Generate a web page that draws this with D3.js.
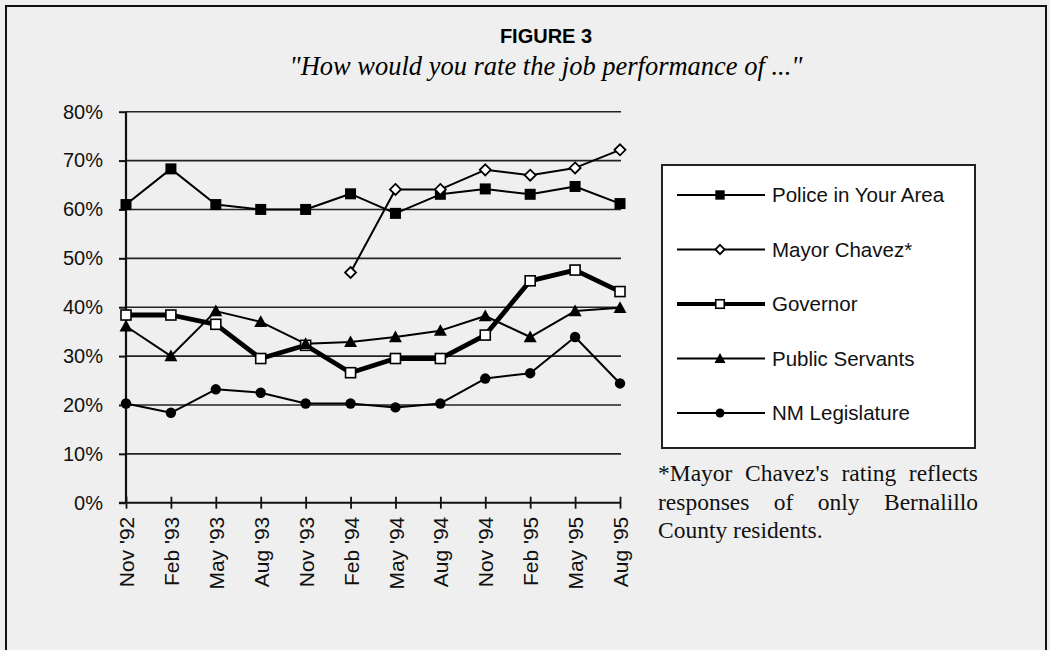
<!DOCTYPE html>
<html><head><meta charset="utf-8">
<script src="https://cdn.jsdelivr.net/npm/d3@7"></script>
<style>body{margin:0;background:#fff}svg{display:block}</style>
</head><body>
<svg id="c" width="1050" height="650"></svg>
<script>
const categories = ["Nov '92","Feb '93","May '93","Aug '93","Nov '93","Feb '94","May '94","Aug '94","Nov '94","Feb '95","May '95","Aug '95"];
const police      = [61.0, 68.3, 61.0, 60.0, 60.0, 63.2, 59.2, 63.1, 64.2, 63.1, 64.7, 61.2];
const mayor       = [null, null, null, null, null, 47.1, 64.1, 64.1, 68.1, 67.0, 68.5, 72.2];
const governor    = [38.4, 38.4, 36.5, 29.5, 32.2, 26.6, 29.5, 29.5, 34.3, 45.4, 47.6, 43.2];
const publicServ  = [36.1, 30.0, 39.2, 37.0, 32.5, 32.9, 33.9, 35.2, 38.2, 33.9, 39.2, 39.9];
const legislature = [20.3, 18.4, 23.2, 22.5, 20.3, 20.3, 19.5, 20.3, 25.4, 26.5, 33.9, 24.4];
const yTicks = [0,10,20,30,40,50,60,70,80];
const seriesNames = ["Police in Your Area","Mayor Chavez*","Governor","Public Servants","NM Legislature"];
const title = "FIGURE 3";
const subtitle = "\"How would you rate the job performance of ...\"";
const footnote = "*Mayor Chavez's rating reflects responses of only Bernalillo County residents.";

const svg = d3.select("#c");
const sans = "Liberation Sans, Arial, sans-serif";
const serif = "Liberation Serif, Times New Roman, serif";

svg.append("rect").attr("width",1050).attr("height",650).attr("fill","#efefef");
svg.append("path").attr("d","M6,660 V6 H1046 V660").attr("fill","none").attr("stroke","#111").attr("stroke-width",2);

const x = d3.scalePoint().domain(categories).range([126,620]);
const y = d3.scaleLinear().domain([0,80]).range([502.7,111.7]);

svg.append("text").attr("x",546).attr("y",43).attr("text-anchor","middle")
  .attr("font-family",sans).attr("font-weight","bold").attr("font-size",20).text(title);
const st = svg.append("text").attr("x",546).attr("y",75).attr("text-anchor","middle")
  .attr("font-family",serif).attr("font-style","italic").attr("font-size",22).text(subtitle);
{ const w = st.node().getComputedTextLength(); st.attr("font-size", 22*513/w); }

const g = svg.append("g");
g.selectAll("line.grid").data(yTicks.filter(d=>d>0)).join("line")
  .attr("x1",126).attr("x2",621).attr("y1",d=>y(d)).attr("y2",d=>y(d))
  .attr("stroke","#222").attr("stroke-width",1.6);

const yAxis = svg.append("g").attr("transform","translate(126,0)")
  .call(d3.axisLeft(y).tickValues(yTicks).tickSize(7).tickFormat(d=>d+"%"));
yAxis.select(".domain").attr("stroke","#111").attr("stroke-width",2.2).attr("d","M0,111.7V502.7");
yAxis.selectAll(".tick line").attr("stroke","#111").attr("stroke-width",2);
yAxis.selectAll(".tick text").attr("x",-23).attr("font-family",sans).attr("font-size",20).attr("fill","#111");

const xAxis = svg.append("g").attr("transform","translate(0,502.7)")
  .call(d3.axisBottom(x).tickSize(6).tickSizeOuter(0));
xAxis.select(".domain").attr("stroke","#111").attr("stroke-width",2).attr("d","M119,0H621");
xAxis.selectAll(".tick line").attr("stroke","#111").attr("stroke-width",1.8).attr("y1",-6).attr("y2",6);
xAxis.selectAll(".tick text").attr("font-family",sans).attr("font-size",21).attr("fill","#111")
  .attr("transform","rotate(-90)").attr("text-anchor","end").attr("x",-14).attr("y",0).attr("dy","0.36em");

const line = d3.line().defined(d=>d.v!=null).x(d=>x(d.c)).y(d=>y(d.v));
function mk(arr){ return categories.map((c,i)=>({c,v:arr[i]})); }
const series = [
  {name:seriesNames[0], data:police, w:2, marker:"sqFill"},
  {name:seriesNames[1], data:mayor, w:2, marker:"diamond"},
  {name:seriesNames[2], data:governor, w:4.8, marker:"sqOpen"},
  {name:seriesNames[3], data:publicServ, w:2, marker:"tri"},
  {name:seriesNames[4], data:legislature, w:2, marker:"circle"}
];
function drawMarker(sel, type, px, py, scale){
  scale = scale||1;
  if(type==="sqFill"){ const s=11*scale; sel.append("rect").attr("x",px-s/2).attr("y",py-s/2).attr("width",s).attr("height",s).attr("fill","#000"); }
  else if(type==="sqOpen"){ const s=10*scale; sel.append("rect").attr("x",px-s/2).attr("y",py-s/2).attr("width",s).attr("height",s).attr("fill","#fff").attr("stroke","#000").attr("stroke-width",1.6); }
  else if(type==="diamond"){ const s=5.5*scale; sel.append("path").attr("d",`M${px},${py-s}L${px+s},${py}L${px},${py+s}L${px-s},${py}Z`).attr("fill","#fff").attr("stroke","#000").attr("stroke-width",1.8); }
  else if(type==="tri"){ const s=6.5*scale; sel.append("path").attr("d",`M${px},${py-s}L${px+s},${py+s*0.8}L${px-s},${py+s*0.8}Z`).attr("fill","#000"); }
  else if(type==="circle"){ sel.append("circle").attr("cx",px).attr("cy",py).attr("r",5.2*scale).attr("fill","#000"); }
}
const sg = svg.append("g");
series.forEach(s=>{
  sg.append("path").datum(mk(s.data)).attr("d",line).attr("fill","none").attr("stroke","#000").attr("stroke-width",s.w).attr("stroke-linejoin","round");
});
series.forEach(s=>{
  mk(s.data).filter(d=>d.v!=null).forEach(d=>drawMarker(sg, s.marker, x(d.c), y(d.v)));
});

const lg = svg.append("g");
lg.append("rect").attr("x",662).attr("y",165).attr("width",313).attr("height",283)
  .attr("fill","#fff").attr("stroke","#222").attr("stroke-width",2);
const ly = d3.scalePoint().domain(seriesNames).range([195,413]);
series.forEach(s=>{
  const yy = ly(s.name);
  lg.append("line").attr("x1",677).attr("x2",765).attr("y1",yy).attr("y2",yy).attr("stroke","#000").attr("stroke-width",s.w===2?1.8:4);
  drawMarker(lg, s.marker, 720, yy, 0.85);
  lg.append("text").attr("x",772).attr("y",yy).attr("dy","0.36em").attr("font-family",sans).attr("font-size",20.5).attr("fill","#111").text(s.name);
});

const words = footnote.split(" ");
const lines = [words.slice(0,4), words.slice(4,8), words.slice(8)];
const fx0 = 658, fx1 = 978, fsz = 23.5;
lines.forEach((ws,li)=>{
  const by = 481 + li*28.5;
  const nodes = ws.map(w=>svg.append("text").attr("y",by).attr("font-family",serif).attr("font-size",fsz).attr("fill","#111").text(w));
  const widths = nodes.map(n=>n.node().getComputedTextLength());
  const total = d3.sum(widths);
  const gap = li<2 ? (fx1-fx0-total)/(ws.length-1) : fsz*0.25;
  let cx = fx0;
  nodes.forEach((n,i)=>{ n.attr("x",cx); cx += widths[i]+gap; });
});
</script>
</body></html>
